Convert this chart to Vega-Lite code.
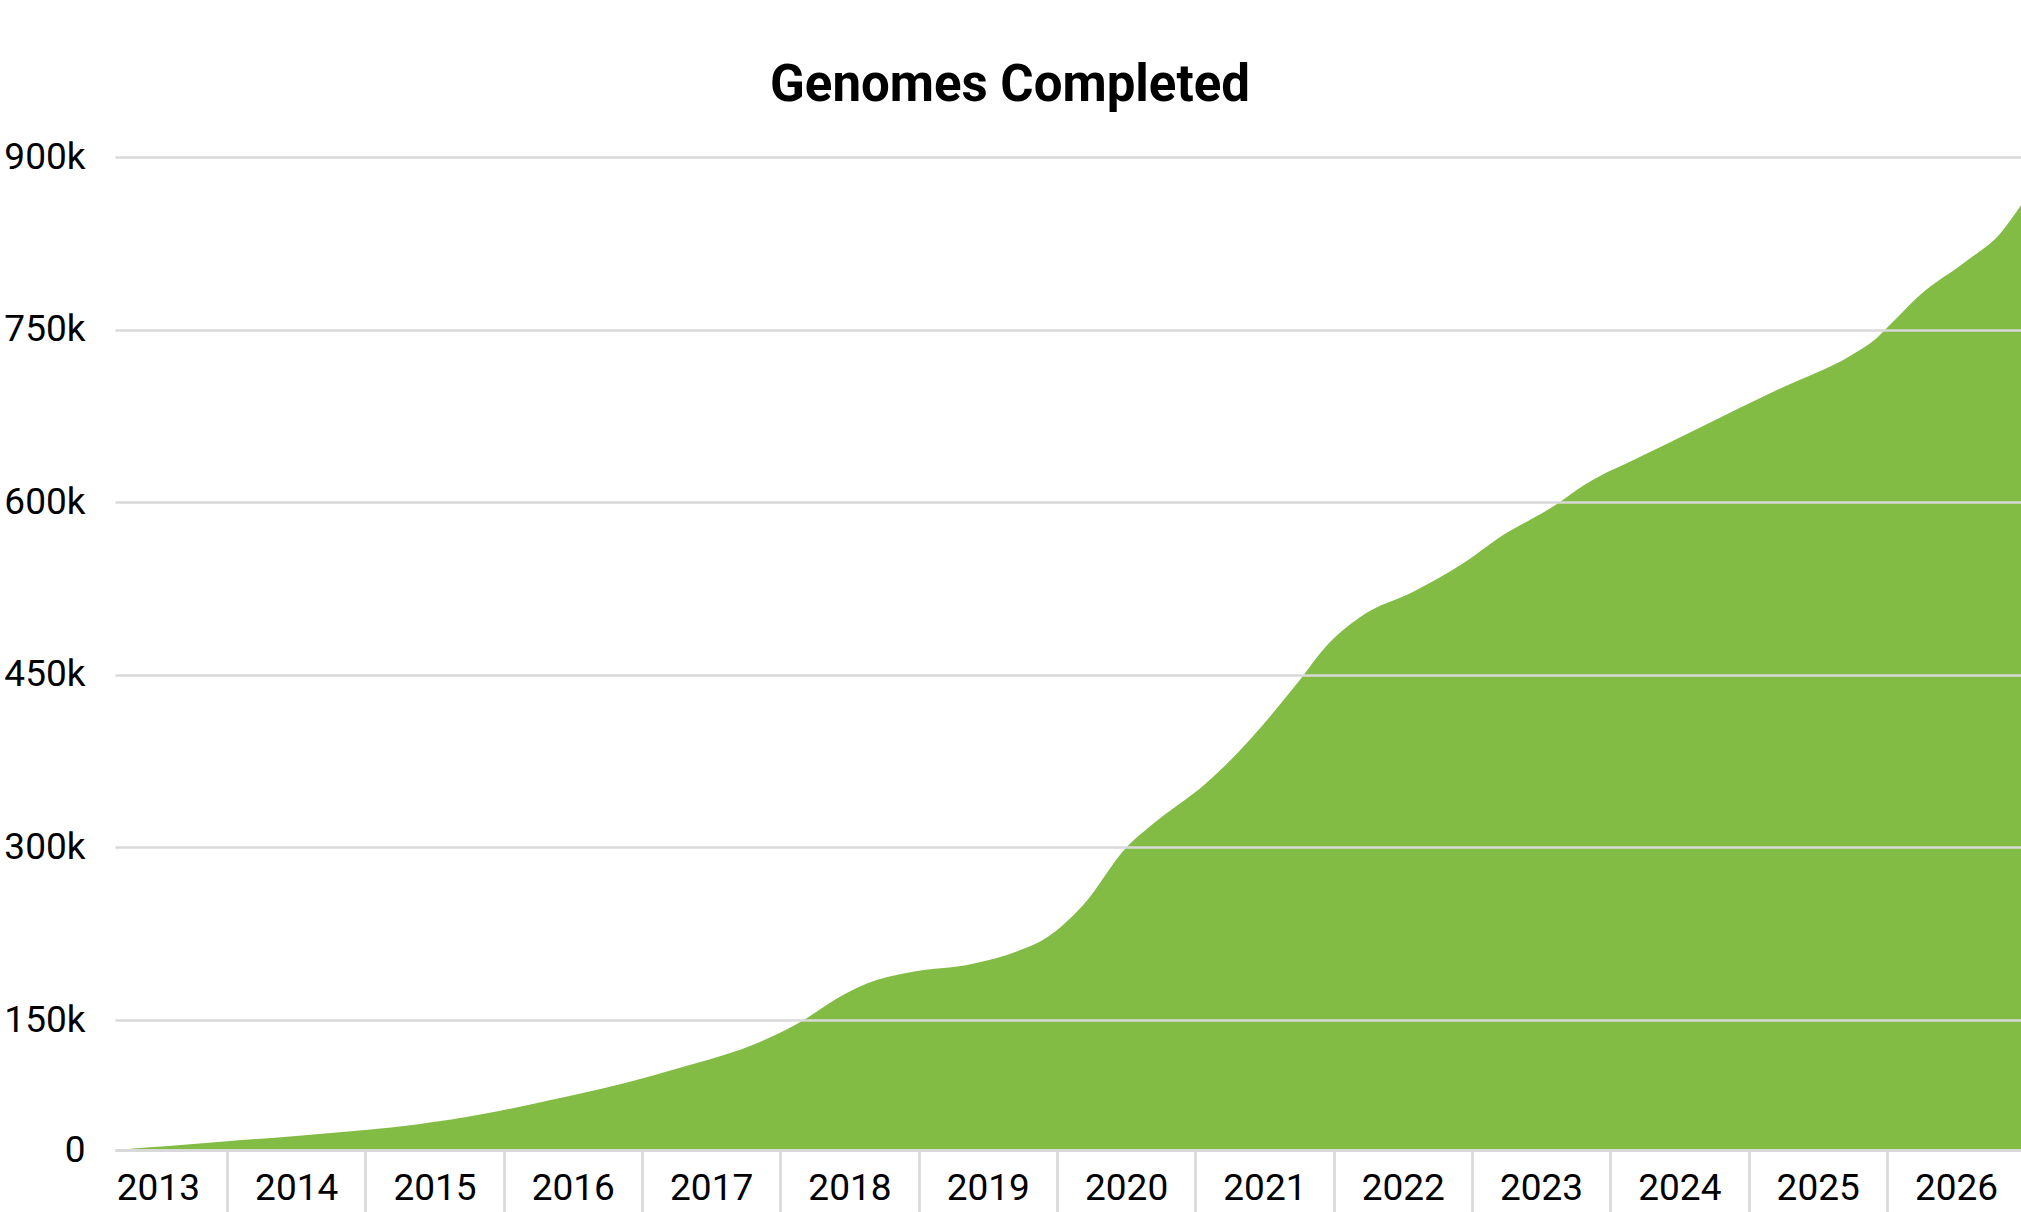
{
  "$schema": "https://vega.github.io/schema/vega-lite/v6.json",
  "width": 1906,
  "height": 993,
  "autosize": "none",
  "padding": {"left": 115, "top": 157, "right": 0, "bottom": 62},
  "background": "#ffffff",
  "title": {
    "text": "Genomes Completed",
    "font": "Roboto",
    "fontSize": 51,
    "fontWeight": "bold",
    "color": "#000000",
    "anchor": "middle",
    "frame": "group",
    "baseline": "alphabetic",
    "dx": -58,
    "offset": -14
  },
  "data": {
    "values": [
      {"year": 2013.19, "genomes": 0},
      {"year": 2013.6, "genomes": 4800},
      {"year": 2014.0, "genomes": 10000},
      {"year": 2014.5, "genomes": 16200},
      {"year": 2015.0, "genomes": 23000},
      {"year": 2015.37, "genomes": 29500},
      {"year": 2015.85, "genomes": 41500},
      {"year": 2016.34, "genomes": 57700},
      {"year": 2016.82, "genomes": 75000},
      {"year": 2017.3, "genomes": 96000},
      {"year": 2017.66, "genomes": 113000},
      {"year": 2017.9, "genomes": 128000},
      {"year": 2018.17, "genomes": 150000},
      {"year": 2018.4, "genomes": 168000},
      {"year": 2018.63, "genomes": 182000},
      {"year": 2018.92, "genomes": 191000},
      {"year": 2019.4, "genomes": 199000},
      {"year": 2019.74, "genomes": 211000},
      {"year": 2019.93, "genomes": 222000},
      {"year": 2020.19, "genomes": 250000},
      {"year": 2020.51, "genomes": 301000},
      {"year": 2020.68, "genomes": 319000},
      {"year": 2021.08, "genomes": 356000},
      {"year": 2021.18, "genomes": 367000},
      {"year": 2021.74, "genomes": 443000},
      {"year": 2021.94, "genomes": 474000},
      {"year": 2022.19, "genomes": 500000},
      {"year": 2022.59, "genomes": 523000},
      {"year": 2022.97, "genomes": 549500},
      {"year": 2023.17, "genomes": 567000},
      {"year": 2023.61, "genomes": 598000},
      {"year": 2023.81, "genomes": 614700},
      {"year": 2023.93, "genomes": 623000},
      {"year": 2024.12, "genomes": 633800},
      {"year": 2024.65, "genomes": 665000},
      {"year": 2025.25, "genomes": 700000},
      {"year": 2025.74, "genomes": 727600},
      {"year": 2025.93, "genomes": 743000},
      {"year": 2026.03, "genomes": 755000},
      {"year": 2026.22, "genomes": 778000},
      {"year": 2026.58, "genomes": 810000},
      {"year": 2026.82, "genomes": 833600},
      {"year": 2026.97, "genomes": 858000}
    ]
  },
  "mark": {"type": "area", "interpolate": "monotone", "color": "#82bc44", "clip": true},
  "encoding": {
    "x": {
      "field": "year",
      "type": "quantitative",
      "title": null,
      "scale": {"domain": [2013.19, 2026.97], "nice": false, "zero": false},
      "axis": {
        "values": [2013.5, 2014.5, 2015.5, 2016.5, 2017.5, 2018.5, 2019.5, 2020.5, 2021.5, 2022.5, 2023.5, 2024.5, 2025.5, 2026.5],
        "labelExpr": "'' + floor(datum.value)",
        "grid": false,
        "zindex": 1,
        "domain": true,
        "domainColor": "#d9d9d9",
        "domainWidth": 3,
        "ticks": true,
        "tickSize": 62,
        "tickWidth": 2.7,
        "tickOffset": -69.16,
        "tickColor": {"condition": {"test": "datum.value < 2014", "value": "transparent"}, "value": "#d9d9d9"},
        "labelOffset": 69.16,
        "labelPadding": -42,
        "labelFont": "Roboto",
        "labelFontSize": 37,
        "labelColor": "#000000",
        "labelOverlap": false,
        "labelBound": false,
        "labelFlush": false
      }
    },
    "y": {
      "field": "genomes",
      "type": "quantitative",
      "title": null,
      "scale": {"domain": [0, 150000, 900000], "range": [993, 863, 0]},
      "axis": {
        "values": [0, 150000, 300000, 450000, 600000, 750000, 900000],
        "labelExpr": "datum.value == 0 ? '0' : (datum.value / 1000) + 'k'",
        "grid": true,
        "gridColor": "#d9d9d9",
        "gridWidth": 2.7,
        "zindex": 1,
        "domain": false,
        "ticks": false,
        "labelPadding": 30,
        "labelFont": "Roboto",
        "labelFontSize": 37,
        "labelColor": "#000000"
      }
    }
  },
  "config": {
    "view": {"stroke": "transparent"}
  }
}
